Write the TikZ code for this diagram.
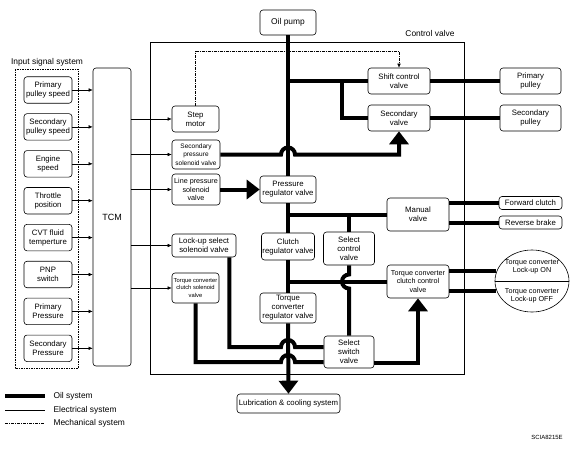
\documentclass[tikz,border=0pt]{standalone}
\usepackage{fontspec}
\setmainfont{Liberation Sans}
\usetikzlibrary{arrows.meta,shapes.geometric}

\tikzset{
  box/.style={draw, line width=0.6pt, rounded corners=3pt, align=center,
    inner sep=0pt, font=\fontsize{7.8}{9}\selectfont},
  midtext/.style={font=\fontsize{7.2}{8.4}\selectfont},
  smalltext/.style={font=\fontsize{6.5}{8.4}\selectfont},
  tinytext/.style={font=\fontsize{5.8}{7.8}\selectfont},
  lbltext/.style={font=\fontsize{8.4}{9.5}\selectfont},
  oil/.style={line width=4pt},
  bigtip/.style={-{Triangle[length=13pt,width=19pt]}},
  elec/.style={line width=0.5pt, -{Latex[length=4pt,width=3.5pt]}},
  mech/.style={line width=0.5pt, dash pattern=on 3pt off 1.2pt on 0.6pt off 1.2pt},
}

\begin{document}
\begin{tikzpicture}[x=1pt,y=-1pt]
  \useasboundingbox (0,0) rectangle (576,450);

  % Input signals and TCM
  \draw[line width=0.5pt, dash pattern=on 1.5pt off 1pt] (15,69) rectangle (78,368);
  \node[lbltext] (inlbl) at (47,62) {Input signal system};
  \foreach \sig [count=\i] in {{Primary\\pulley speed},{Secondary\\pulley speed},
      {Engine\\speed},{Throttle\\position},{CVT fluid\\temperture},{PNP\\switch},
      {Primary\\Pressure},{Secondary\\Pressure}}
    \node[box, minimum width=48pt, minimum height=26.5pt] (in\i) at (48,{90+36.9*(\i-1)}) {\sig};
  \node[box, font=\fontsize{9}{10}\selectfont, minimum width=38pt, minimum height=298pt] (tcm) at (112,217) {TCM};
  \foreach \i in {1,...,8}
    \draw[elec] (in\i.east) -- (in\i.east -| tcm.west);

  % Control valve
  \draw[line width=0.6pt] (150,42) rectangle (464,374);
  \node[lbltext, anchor=south east] (cvlbl) at (458,40) {Control valve};

  \node[box, font=\fontsize{8.4}{9.5}\selectfont, minimum width=56pt, minimum height=25pt] (pump) at (288,22.5) {Oil pump};
  \node[box, minimum width=62pt, minimum height=26pt] (shift) at (399,81) {Shift control\\valve};
  \node[box, minimum width=62pt, minimum height=26pt] (secv) at (399,118) {Secondary\\valve};
  \node[box, minimum width=61pt, minimum height=26pt] (ppul) at (530.5,81) {Primary\\pulley};
  \node[box, minimum width=61pt, minimum height=26pt] (spul) at (530.5,118) {Secondary\\pulley};
  \node[box, minimum width=47pt, minimum height=26pt] (step) at (195.5,119) {Step\\motor};
  \node[box, smalltext, minimum width=48pt, minimum height=29pt] (sps) at (196,154.5) {Secondary\\pressure\\solenoid valve};
  \node[box, midtext, minimum width=48pt, minimum height=31pt] (lps) at (196,189.5) {Line pressure\\solenoid\\valve};
  \node[box, minimum width=56pt, minimum height=27pt] (prv) at (288,189.5) {Pressure\\regulator valve};
  \node[box, minimum width=64pt, minimum height=23pt] (lusel) at (204,245.5) {Lock-up select\\solenoid valve};
  \node[box, tinytext, minimum width=47pt, minimum height=30pt] (tccs) at (195.5,288) {Torque converter\\clutch solenoid\\valve};
  \node[box, minimum width=53pt, minimum height=27pt] (clutch) at (288,246.5) {Clutch\\regulator valve};
  \node[box, minimum width=62pt, minimum height=33pt] (manual) at (418,214.5) {Manual\\valve};
  \node[box, minimum width=51pt, minimum height=33pt] (selc) at (349,248.5) {Select\\control\\valve};
  \node[box, midtext, minimum width=62pt, minimum height=33pt] (tccc) at (418,281.5) {Torque converter\\clutch control\\valve};
  \node[box, minimum width=56pt, minimum height=30pt] (tcr) at (288,308) {Torque\\converter\\regulator valve};
  \node[box, minimum width=50pt, minimum height=32pt] (ssw) at (349,352) {Select\\switch\\valve};
  \node[box, minimum width=63pt, minimum height=13pt] (fwd) at (530.5,203) {Forward clutch};
  \node[box, minimum width=63pt, minimum height=13pt] (rev) at (530.5,222.5) {Reverse brake};
  \node[draw, ellipse, line width=0.6pt, minimum width=74pt, minimum height=62pt, inner sep=0pt] (lock) at (532,281) {};
  \node[midtext, align=center] (lockon) at (532,266.5) {Torque converter\\Lock-up ON};
  \node[midtext, align=center] (lockoff) at (532,295.5) {Torque converter\\Lock-up OFF};
  \draw[line width=0.6pt] (lock.west) -- (lock.east);
  \node[box, minimum width=103pt, minimum height=19pt] (lub) at (288.5,403.5) {Lubrication \& cooling system};

  % Electrical system
  \foreach \n in {step,sps,lps,lusel,tccs}
    \draw[elec] (\n.west -| tcm.east) -- (\n.west);

  % Mechanical system
  \draw[mech,-{Latex[length=4pt,width=3.5pt]}] (step.north) |- ([yshift=16pt]shift.north) -- (shift.north);

  % Oil system
  \draw[oil] (pump.south) -- (prv.north);
  \draw[oil] (prv.south) -- (clutch.north);
  \draw[oil] (clutch.south) -- (tcr.north);
  \draw[oil,bigtip] (tcr.south) -- (lub.north);

  \coordinate (j1) at (pump.south |- shift.west);
  \coordinate (j2) at (342,81);
  \draw[oil] (j1) -- (shift.west);
  \draw[oil] (j2) |- (secv.west);
  \draw[oil] (shift.east) -- (ppul.west);
  \draw[oil] (secv.east) -- (spul.west);

  \draw[oil,bigtip] (sps.east) -- ([xshift=-7pt]pump.south |- sps.east)
    arc[start angle=180, end angle=0, radius=7pt] -- (secv.south |- sps.east) -- (secv.south);
  \draw[oil,bigtip] (lps.east) -- (prv.west);

  \coordinate (j3) at (pump.south |- manual.west);
  \draw[oil] (j3) -- (manual.west);
  \draw[oil] (selc.north |- manual.west) -- (selc.north);
  \draw[oil] (manual.east |- fwd.west) -- (fwd.west);
  \draw[oil] (manual.east |- rev.west) -- (rev.west);

  \coordinate (j4) at (pump.south |- tccc.west);
  \draw[oil] (j4) -- (tccc.west);
  \draw[oil] (selc.south) -- ([yshift=7pt]selc.south |- tccc.west)
    arc[start angle=90, end angle=270, radius=7pt] -- (ssw.north);
  \draw[oil] (lock.165 -| tccc.east) -- (lock.165);
  \draw[oil] (lock.195 -| tccc.east) -- (lock.195);

  \coordinate (u1) at ([yshift=5pt]ssw.west);
  \coordinate (u2) at ([yshift=-10pt]ssw.west);
  \draw[oil] ([xshift=-7pt]lusel.south east) |- ([xshift=-7pt]pump.south |- u1)
    arc[start angle=180, end angle=0, radius=7pt] -- (u1);
  \draw[oil] (tccs.south) |- ([xshift=-7pt]pump.south |- u2)
    arc[start angle=180, end angle=0, radius=7pt] -- (u2);
  \draw[oil,bigtip] ([yshift=-11pt]ssw.east) -| (tccc.south);

  % Legend
  \draw[oil] (5,396) -- (45,396);
  \draw[line width=0.5pt] (5,410) -- (45,410);
  \draw[mech] (5,423) -- (45,423);
  \node[lbltext, anchor=west] (leg1) at (50,396) {Oil system};
  \node[lbltext, anchor=west] (leg2) at (50,410) {Electrical system};
  \node[lbltext, anchor=west] (leg3) at (50,423) {Mechanical system};
  \node[font=\fontsize{6}{7}\selectfont] (code) at (547,437) {SCIA8215E};
\end{tikzpicture}
\end{document}
